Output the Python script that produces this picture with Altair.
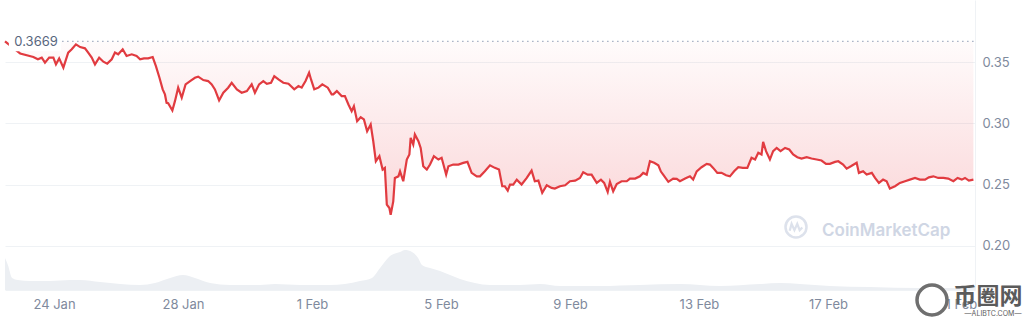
import altair as alt
import pandas as pd

# ---------------- data ----------------
# price: days offset from 24 Jan 00:00, price in USD
days = [
    -1.52, -1.05, -0.64, -0.50, -0.38, -0.28, -0.15, -0.02, 0.06, 0.16,
    0.29, 0.44, 0.55, 0.68, 0.81, 0.96, 1.06, 1.17, 1.27, 1.40,
    1.53, 1.65, 1.79, 1.89, 1.99, 2.13, 2.25, 2.41, 2.56, 2.67,
    2.79, 2.92, 3.06, 3.16, 3.27, 3.37, 3.44, 3.49, 3.54, 3.67,
    3.75, 3.85, 3.96, 4.08, 4.22, 4.37, 4.47, 4.63, 4.78, 4.89,
    4.99, 5.12, 5.25, 5.40, 5.51, 5.67, 5.82, 5.98, 6.13, 6.23,
    6.36, 6.49, 6.60, 6.73, 6.83, 6.96, 7.11, 7.27, 7.45, 7.58,
    7.68, 7.80, 7.91, 7.97, 8.07, 8.20, 8.32, 8.49, 8.61, 8.66,
    8.77, 8.92, 9.02, 9.13, 9.23, 9.30, 9.40, 9.51, 9.61, 9.71,
    9.82, 9.90, 9.98, 10.09, 10.19, 10.26, 10.32, 10.40, 10.44, 10.52,
    10.57, 10.68, 10.73, 10.83, 10.94, 11.02, 11.06, 11.14, 11.19, 11.30,
    11.37, 11.45, 11.56, 11.66, 11.78, 11.92, 12.02, 12.16, 12.23, 12.38,
    12.54, 12.69, 12.82, 12.95, 13.11, 13.21, 13.36, 13.52, 13.67, 13.80,
    13.90, 13.98, 14.07, 14.14, 14.24, 14.35, 14.50, 14.66, 14.81, 14.91,
    15.02, 15.14, 15.28, 15.43, 15.53, 15.69, 15.85, 16.00, 16.16, 16.31,
    16.41, 16.55, 16.67, 16.83, 16.96, 17.06, 17.17, 17.24, 17.34, 17.45,
    17.60, 17.76, 17.86, 18.02, 18.17, 18.27, 18.38, 18.48, 18.61, 18.74,
    18.82, 18.89, 19.05, 19.20, 19.31, 19.41, 19.57, 19.72, 19.82, 19.93,
    20.08, 20.24, 20.34, 20.44, 20.57, 20.70, 20.84, 20.96, 21.09, 21.22,
    21.36, 21.50, 21.63, 21.74, 21.84, 21.94, 21.99, 22.08, 22.20, 22.30,
    22.41, 22.53, 22.67, 22.80, 22.92, 23.05, 23.18, 23.34, 23.49, 23.65,
    23.80, 23.94, 24.06, 24.22, 24.32, 24.47, 24.58, 24.71, 24.89, 24.96,
    25.09, 25.20, 25.36, 25.46, 25.58, 25.71, 25.82, 25.92, 26.08, 26.23,
    26.39, 26.54, 26.70, 26.85, 27.01, 27.13, 27.27, 27.42, 27.58, 27.73,
    27.89, 28.02, 28.15, 28.25, 28.37, 28.51,
]
price = [
    0.3669, 0.3570, 0.3541, 0.3522, 0.3536, 0.3495, 0.3536, 0.3536, 0.3481, 0.3530,
    0.3454, 0.3577, 0.3604, 0.3644, 0.3622, 0.3612, 0.3577, 0.3536, 0.3481, 0.3536,
    0.3503, 0.3487, 0.3522, 0.3577, 0.3563, 0.3604, 0.3549, 0.3563, 0.3549, 0.3522,
    0.3530, 0.3530, 0.3541, 0.3467, 0.3372, 0.3277, 0.3236, 0.3168, 0.3165, 0.3105,
    0.3181, 0.3291, 0.3209, 0.3318, 0.3345, 0.3372, 0.3381, 0.3353, 0.3345, 0.3318,
    0.3277, 0.3187, 0.3250, 0.3291, 0.3331, 0.3277, 0.3250, 0.3263, 0.3318, 0.3250,
    0.3318, 0.3345, 0.3323, 0.3331, 0.3385, 0.3358, 0.3331, 0.3323, 0.3277, 0.3304,
    0.3291, 0.3345, 0.3413, 0.3358, 0.3277, 0.3291, 0.3318, 0.3291, 0.3236, 0.3236,
    0.3263, 0.3222, 0.3222, 0.3154, 0.3099, 0.3140, 0.3018, 0.3050, 0.3032, 0.2936,
    0.2991, 0.2854, 0.2691, 0.2732, 0.2623, 0.2637, 0.2337, 0.2310, 0.2255, 0.2364,
    0.2555, 0.2568, 0.2609, 0.2528, 0.2705, 0.2746, 0.2882, 0.2827, 0.2909, 0.2854,
    0.2800, 0.2650, 0.2623, 0.2664, 0.2732, 0.2705, 0.2719, 0.2582, 0.2650, 0.2664,
    0.2664, 0.2678, 0.2686, 0.2596, 0.2568, 0.2568, 0.2609, 0.2658, 0.2637, 0.2623,
    0.2487, 0.2487, 0.2452, 0.2501, 0.2501, 0.2541, 0.2501, 0.2555, 0.2615, 0.2528,
    0.2533, 0.2433, 0.2495, 0.2474, 0.2468, 0.2487, 0.2495, 0.2528, 0.2533, 0.2555,
    0.2601, 0.2582, 0.2582, 0.2514, 0.2541, 0.2514, 0.2441, 0.2523, 0.2446, 0.2506,
    0.2528, 0.2528, 0.2550, 0.2550, 0.2568, 0.2596, 0.2582, 0.2691, 0.2678, 0.2658,
    0.2607, 0.2582, 0.2523, 0.2550, 0.2547, 0.2528, 0.2550, 0.2568, 0.2541, 0.2609,
    0.2642, 0.2670, 0.2664, 0.2637, 0.2596, 0.2596, 0.2577, 0.2568, 0.2609, 0.2642,
    0.2637, 0.2637, 0.2719, 0.2705, 0.2760, 0.2746, 0.2849, 0.2773, 0.2705, 0.2773,
    0.2800, 0.2773, 0.2800, 0.2787, 0.2746, 0.2724, 0.2713, 0.2724, 0.2713, 0.2705,
    0.2697, 0.2670, 0.2670, 0.2686, 0.2691, 0.2664, 0.2631, 0.2650, 0.2678, 0.2596,
    0.2609, 0.2582, 0.2596, 0.2555, 0.2514, 0.2541, 0.2528, 0.2468, 0.2487, 0.2514,
    0.2528, 0.2541, 0.2555, 0.2541, 0.2541, 0.2560, 0.2568, 0.2555, 0.2555, 0.2550,
    0.2528, 0.2555, 0.2541, 0.2555, 0.2533, 0.2541,
]

# volume (arbitrary units, millions)
vol_days = [
    -1.52, -1.43, -1.30, -1.12, -0.74, -0.12, 0.50, 0.81, 1.43, 2.05,
    2.67, 3.13, 3.60, 4.00, 4.37, 4.84, 5.46, 6.39, 6.85, 7.63,
    8.56, 9.02, 9.49, 9.86, 10.11, 10.42, 10.73, 10.88, 11.10, 11.29,
    11.41, 11.66, 11.97, 12.28, 12.59, 13.05, 13.52, 14.45, 15.07, 15.69,
    16.93, 18.17, 19.41, 20.65, 21.89, 22.51, 23.13, 24.06, 25.30, 26.85,
    28.56,
]
volume = [
    32, 25, 12, 10, 9, 9, 10, 10, 8, 6,
    5, 7, 12, 15, 12, 7, 5, 5, 6, 5,
    5, 6, 9, 12, 22, 34, 38, 40, 38, 32,
    25, 22, 19, 15, 11, 7, 5, 5, 6, 4,
    4, 5, 6, 4, 6, 7, 6, 4, 3, 2,
    2,
]
VOL_MAX = 290

tick_days = [0, 4, 8, 12, 16, 20, 24, 28]
price_ticks = [0.20, 0.25, 0.30, 0.35]
PRICE_DOMAIN = [0.1641, 0.4006]
START_DAY, END_DAY = -1.52, 28.56

BASE = pd.Timestamp("2023-01-24")


def ts(d):
    return BASE + pd.to_timedelta(d, unit="D")


def dt(d):
    t = ts(d)
    return alt.DateTime(year=t.year, month=t.month, date=t.day,
                        hours=t.hour, minutes=t.minute, seconds=t.second)


assert len(days) == len(price)
assert len(vol_days) == len(volume)

df = pd.DataFrame({"t": [ts(d) for d in days], "price": price})
df["base"] = price[0]
vdf = pd.DataFrame({"t": [ts(d) for d in vol_days], "vol": volume})

start_price = price[0]
ann = pd.DataFrame({
    "t_box1": [ts(-1.40)], "t_box2": [ts(0.22)],
    "p_box1": [start_price + 0.0065], "p_box2": [start_price - 0.0080],
    "t_lab": [ts(-1.23)], "p": [start_price],
    "t_r1": [ts(0.25)], "t_r2": [ts(END_DAY)],
    "label": [f"{start_price:.4f}"],
})

RED = "#e13b40"
GRID = "#eff2f5"
LABEL = "#808a9d"

x_scale = alt.Scale(domain=[dt(START_DAY), dt(END_DAY)])
y_scale = alt.Scale(domain=PRICE_DOMAIN, zero=False, nice=False)

x_axis = alt.Axis(values=[dt(d) for d in tick_days], format="%-d %b",
                  grid=False, ticks=False, domain=True, domainColor=GRID,
                  labelColor=LABEL, labelFontSize=13, labelPadding=8,
                  title=None, labelFlush=False)
y_axis = alt.Axis(orient="right", values=price_ticks, format=".2f",
                  grid=True, gridColor=GRID, ticks=False, domain=True,
                  domainColor=GRID, labelColor=LABEL, labelFontSize=13,
                  labelPadding=7, title=None)


def X(field):
    return alt.X(field, scale=x_scale, axis=x_axis)


def Y(field):
    return alt.Y(field, scale=y_scale, axis=y_axis)


vol = alt.Chart(vdf).mark_area(color="#eceff3", interpolate="monotone").encode(
    x=X("t:T"),
    y=alt.Y("vol:Q", scale=alt.Scale(domain=[0, VOL_MAX]), axis=None),
)

gradient = alt.Gradient(
    gradient="linear",
    stops=[alt.GradientStop(color="rgba(234,57,67,0.02)", offset=0),
           alt.GradientStop(color="rgba(234,57,67,0.20)", offset=1)],
    x1=1, x2=1, y1=0, y2=1,
)

fill = alt.Chart(df).mark_area(color=gradient).encode(
    x=X("t:T"), y=Y("price:Q"), y2="base:Q",
)

baseline = alt.Chart(ann).mark_rule(color="#a6b0c3", strokeDash=[1.5, 3.5],
                                    strokeWidth=1.3).encode(
    x=X("t_r1:T"), x2="t_r2:T", y=Y("p:Q"),
)

line = alt.Chart(df).mark_line(color=RED, strokeWidth=2.2).encode(
    x=X("t:T"), y=Y("price:Q"),
)

box = alt.Chart(ann).mark_rect(color="white").encode(
    x=X("t_box1:T"), x2="t_box2:T", y=Y("p_box1:Q"), y2="p_box2:Q",
)

label = alt.Chart(ann).mark_text(align="left", baseline="middle", fontSize=13,
                                 color="#58667e", dy=1).encode(
    x=X("t_lab:T"), y=Y("p:Q"), text="label:N",
)

price_layers = alt.layer(fill, baseline, line, box, label)

# ---------------- watermarks ----------------
WM = "#cfd6e4"
one = pd.DataFrame({"s": ["CoinMarketCap"]})
cmc_ring = alt.Chart(one).mark_point(shape="circle", filled=False, size=441,
                                     strokeWidth=2.5, color=WM).encode(
    x=alt.value(791), y=alt.value(227))
cmc_m = alt.Chart(one).mark_point(
    shape="M-0.6,0.35 L-0.42,-0.3 L-0.15,0.3 L0.12,-0.3 L0.35,0.3 L0.6,0.05",
    filled=False, size=441, strokeWidth=2.2, color=WM).encode(
    x=alt.value(791), y=alt.value(227))
cmc_text = alt.Chart(one).mark_text(align="left", baseline="middle", fontSize=17,
                                    fontWeight=600, color=WM).encode(
    x=alt.value(817), y=alt.value(231), text="s:N")

bq = pd.DataFrame({"s": ["币圈网"], "u": ["—ALIBTC.COM—"]})
bq_ring = alt.Chart(bq).mark_point(shape="circle", filled=True, fill="white",
                                   size=900, strokeWidth=3.5, stroke="#6f6f6f",
                                   opacity=1).encode(
    x=alt.value(927), y=alt.value(300))
bq_text = alt.Chart(bq).mark_text(align="center", baseline="middle", fontSize=23,
                                  fontWeight="bold", color="#5b5b5b",
                                  font="Noto Sans CJK SC").encode(
    x=alt.value(983), y=alt.value(297), text="s:N")
bq_url = alt.Chart(bq).mark_text(align="center", baseline="middle", fontSize=7,
                                 color="#5b5b5b").encode(
    x=alt.value(988), y=alt.value(314), text="u:N")

chart = alt.layer(
    vol, price_layers, cmc_ring, cmc_m, cmc_text, bq_ring, bq_text, bq_url
).resolve_scale(y="independent").properties(
    width=970, height=290,
    padding={"left": 5, "top": 0, "right": 49, "bottom": 31},
    autosize=alt.AutoSizeParams(type="none"),
).configure(font="Inter", background="white",
            view=alt.ViewConfig(stroke=None))

chart.save("out.html", embed_options={"renderer": "svg", "actions": False})
